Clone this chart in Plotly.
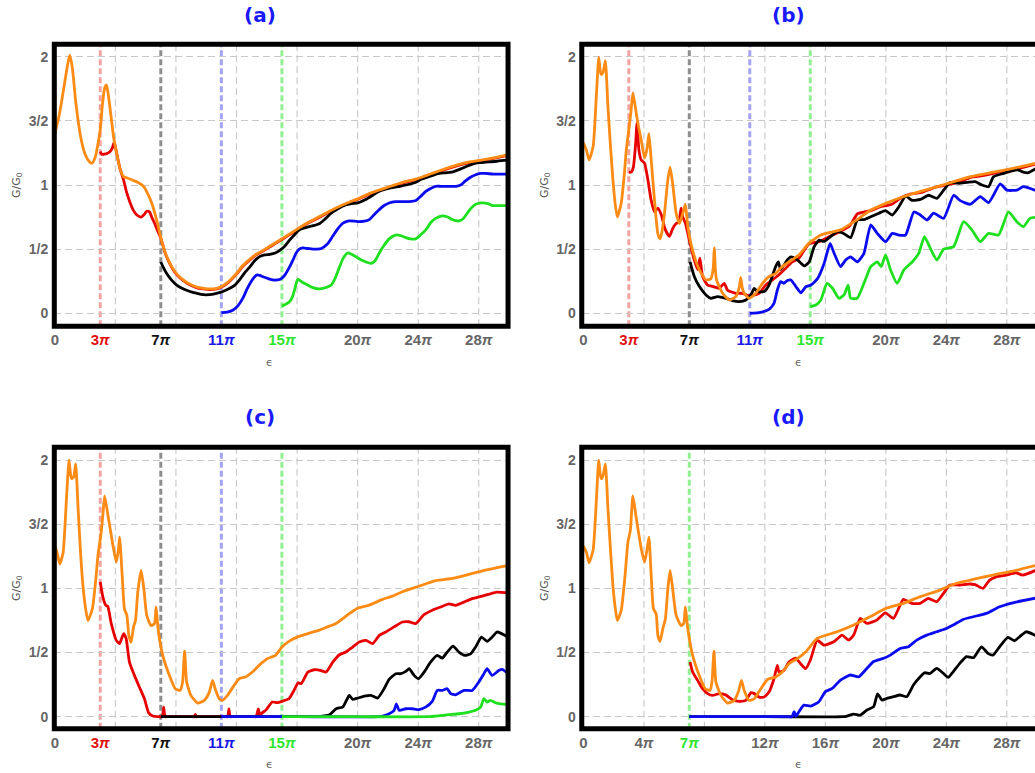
import plotly.graph_objects as go

# ---------------- data (x in units of pi, y = G/G0) ----------------
# Panel (a)
A_ORANGE_X = [0, 0.3, 0.6, 0.85, 0.99, 1.15, 1.4, 1.7, 2.0, 2.3, 2.46, 2.65, 2.85, 3.0, 3.15, 3.3, 3.4, 3.5, 3.7, 3.9, 4.1, 4.3, 4.54, 4.8, 5.2, 5.5, 5.86, 6.1, 6.4, 6.7, 7.0, 7.3, 7.6, 7.9, 8.27, 8.8, 9.36, 9.8, 10.24, 10.7, 11.1, 11.5, 12.0, 12.4, 12.87, 13.3, 13.75, 14.3, 14.85, 15.4, 15.94, 16.6, 17.26, 17.9, 18.57, 19.3, 19.96, 20.7, 21.4, 22.2, 22.96, 23.95, 25.15, 26.0, 26.7, 27.4, 27.96, 28.9, 29.95]
A_ORANGE_Y = [1.40, 1.55, 1.76, 1.94, 2.01, 1.92, 1.63, 1.38, 1.24, 1.18, 1.17, 1.21, 1.32, 1.43, 1.63, 1.76, 1.78, 1.73, 1.55, 1.36, 1.24, 1.13, 1.065, 1.055, 1.035, 1.02, 0.99, 0.94, 0.86, 0.74, 0.59, 0.47, 0.39, 0.33, 0.28, 0.235, 0.205, 0.195, 0.19, 0.195, 0.215, 0.25, 0.31, 0.37, 0.42, 0.46, 0.49, 0.53, 0.57, 0.61, 0.65, 0.70, 0.74, 0.78, 0.82, 0.86, 0.89, 0.93, 0.96, 0.99, 1.02, 1.05, 1.10, 1.135, 1.16, 1.18, 1.19, 1.21, 1.235]
A_RED_X = [3.0, 3.1, 3.25, 3.45, 3.65, 3.8, 3.92, 4.1, 4.3, 4.54, 4.75, 4.98, 5.2, 5.42, 5.7, 5.9, 6.07, 6.25, 6.4, 6.6, 6.8, 7.0, 7.3, 7.6, 7.9, 8.27, 8.8, 9.36, 9.8, 10.24, 10.7, 11.1, 11.5, 12.0, 12.4, 12.87, 13.3, 13.75, 14.3, 14.85, 15.4, 15.94, 16.6, 17.26, 17.9, 18.57, 19.3, 19.96, 20.7, 21.4, 22.2, 22.96, 23.95, 25.15, 26.0, 26.7, 27.4, 27.96, 28.9, 29.95]
A_RED_Y = [1.26, 1.24, 1.24, 1.245, 1.26, 1.29, 1.33, 1.24, 1.13, 1.04, 0.94, 0.86, 0.80, 0.766, 0.75, 0.77, 0.795, 0.79, 0.75, 0.70, 0.64, 0.585, 0.465, 0.385, 0.325, 0.275, 0.23, 0.2, 0.19, 0.185, 0.19, 0.21, 0.245, 0.305, 0.365, 0.415, 0.455, 0.485, 0.525, 0.565, 0.605, 0.645, 0.695, 0.735, 0.775, 0.815, 0.855, 0.885, 0.925, 0.955, 0.985, 1.015, 1.045, 1.095, 1.13, 1.155, 1.175, 1.185, 1.205, 1.23]
A_BLACK_X = [7.0, 7.2, 7.39, 7.7, 8.05, 8.5, 8.93, 9.4, 9.8, 10.2, 10.68, 11.1, 11.56, 11.9, 12.2, 12.5, 12.87, 13.2, 13.5, 13.85, 14.2, 14.55, 14.85, 15.2, 15.5, 15.85, 16.16, 16.5, 16.8, 17.15, 17.5, 17.9, 18.25, 18.7, 19.2, 19.6, 20.0, 20.5, 21.0, 21.4, 21.9, 22.3, 22.8, 23.2, 23.8, 24.2, 24.7, 25.4, 25.8, 26.2, 26.9, 27.4, 27.8, 28.2, 28.7, 29.2, 29.95]
A_BLACK_Y = [0.40, 0.35, 0.31, 0.26, 0.22, 0.19, 0.17, 0.155, 0.145, 0.145, 0.156, 0.17, 0.195, 0.22, 0.26, 0.31, 0.36, 0.41, 0.44, 0.455, 0.46, 0.47, 0.49, 0.525, 0.57, 0.615, 0.65, 0.665, 0.675, 0.685, 0.70, 0.74, 0.78, 0.815, 0.845, 0.855, 0.86, 0.885, 0.92, 0.95, 0.97, 0.98, 0.99, 1.0, 1.02, 1.045, 1.065, 1.09, 1.095, 1.10, 1.13, 1.155, 1.17, 1.175, 1.18, 1.185, 1.195]
A_BLUE_X = [11.0, 11.4, 11.78, 12.1, 12.43, 12.7, 12.98, 13.2, 13.36, 13.55, 13.75, 14.1, 14.4, 14.7, 14.96, 15.2, 15.5, 15.75, 15.94, 16.15, 16.38, 16.7, 17.04, 17.3, 17.6, 18.0, 18.35, 18.7, 19.0, 19.25, 19.45, 19.8, 20.1, 20.45, 20.77, 21.1, 21.4, 21.75, 22.08, 22.5, 22.85, 23.18, 23.55, 23.85, 24.2, 24.5, 24.85, 25.15, 25.5, 25.8, 26.15, 26.5, 26.8, 27.1, 27.45, 27.8, 28.1, 28.44, 29.0, 29.95]
A_BLUE_Y = [0.005, 0.01, 0.026, 0.06, 0.12, 0.19, 0.25, 0.285, 0.30, 0.295, 0.285, 0.27, 0.26, 0.26, 0.27, 0.30, 0.36, 0.42, 0.47, 0.50, 0.51, 0.505, 0.50, 0.50, 0.505, 0.54, 0.60, 0.66, 0.70, 0.715, 0.72, 0.718, 0.714, 0.718, 0.73, 0.77, 0.805, 0.84, 0.86, 0.87, 0.87, 0.87, 0.872, 0.88, 0.915, 0.95, 0.975, 0.99, 0.99, 0.99, 0.99, 0.99, 1.0, 1.03, 1.06, 1.08, 1.09, 1.09, 1.085, 1.085]
A_GREEN_X = [15.0, 15.25, 15.5, 15.7, 15.83, 15.95, 16.05, 16.2, 16.38, 16.7, 17.04, 17.4, 17.7, 18.0, 18.25, 18.5, 18.8, 19.05, 19.34, 19.6, 19.9, 20.25, 20.55, 20.9, 21.15, 21.43, 21.75, 22.08, 22.5, 22.85, 23.18, 23.5, 23.83, 24.15, 24.5, 24.85, 25.15, 25.6, 25.95, 26.25, 26.7, 26.95, 27.24, 27.5, 27.8, 28.22, 28.6, 28.9, 29.3, 29.95]
A_GREEN_Y = [0.057, 0.07, 0.09, 0.13, 0.18, 0.235, 0.265, 0.255, 0.24, 0.22, 0.20, 0.19, 0.195, 0.205, 0.22, 0.27, 0.36, 0.43, 0.47, 0.46, 0.44, 0.415, 0.40, 0.39, 0.41, 0.47, 0.53, 0.58, 0.61, 0.605, 0.59, 0.58, 0.58, 0.61, 0.65, 0.71, 0.74, 0.76, 0.75, 0.73, 0.72, 0.735, 0.78, 0.82, 0.85, 0.86, 0.855, 0.84, 0.84, 0.84]

# Panel (b)
B_ORANGE_X = [0.0, 0.2, 0.37, 0.64, 0.86, 1.01, 1.12, 1.19, 1.3, 1.45, 1.62, 1.8, 1.95, 2.1, 2.24, 2.5, 2.7, 2.83, 3.05, 3.15, 3.27, 3.49, 3.65, 3.82, 4.04, 4.2, 4.33, 4.48, 4.7, 4.92, 5.07, 5.2, 5.36, 5.58, 5.73, 5.9, 6.13, 6.35, 6.57, 6.74, 6.9, 7.22, 7.66, 8.1, 8.43, 8.58, 8.65, 8.72, 8.8, 9.2, 9.64, 10.08, 10.3, 10.4, 10.5, 10.63, 10.96, 11.4, 11.84, 12.27, 12.7, 13.15, 13.8, 14.25, 14.9, 15.3, 15.7, 16.3, 17.0, 17.9, 19.0, 20.0, 21.2, 22.3, 24.05, 25.6, 27.1, 28.4, 29.95]
B_ORANGE_Y = [1.33, 1.27, 1.195, 1.30, 1.71, 1.995, 1.88, 1.86, 1.88, 1.97, 1.61, 1.28, 1.04, 0.85, 0.75, 0.86, 1.08, 1.27, 1.48, 1.58, 1.72, 1.56, 1.45, 1.35, 1.21, 1.28, 1.40, 1.195, 0.88, 0.62, 0.58, 0.64, 0.78, 1.04, 1.14, 1.01, 0.78, 0.70, 0.78, 0.85, 0.675, 0.49, 0.34, 0.26, 0.27, 0.35, 0.51, 0.35, 0.26, 0.156, 0.104, 0.13, 0.2, 0.28, 0.2, 0.156, 0.117, 0.156, 0.234, 0.286, 0.31, 0.364, 0.416, 0.455, 0.545, 0.58, 0.61, 0.63, 0.65, 0.714, 0.805, 0.857, 0.91, 0.95, 1.01, 1.065, 1.10, 1.13, 1.17]
B_RED_X = [3.0, 3.15, 3.3, 3.45, 3.54, 3.67, 3.82, 4.04, 4.26, 4.48, 4.7, 4.92, 5.14, 5.42, 5.69, 5.9, 6.13, 6.3, 6.46, 6.57, 6.75, 7.0, 7.33, 7.55, 7.7, 7.88, 8.21, 8.54, 8.98, 9.31, 9.53, 10.08, 10.5, 10.85, 11.2, 11.62, 12.05, 12.5, 12.93, 13.37, 13.8, 14.25, 14.9, 15.59, 16.3, 17.0, 17.6, 18.11, 18.6, 19.0, 19.6, 20.4, 21.0, 21.6, 22.3, 23.2, 24.05, 25.0, 25.6, 26.5, 27.1, 28.0, 28.8, 29.95]
B_RED_Y = [1.10, 1.10, 1.14, 1.32, 1.48, 1.27, 1.195, 1.17, 1.04, 0.88, 0.79, 0.82, 0.77, 0.65, 0.60, 0.66, 0.70, 0.71, 0.82, 0.75, 0.70, 0.57, 0.415, 0.34, 0.43, 0.286, 0.22, 0.21, 0.195, 0.234, 0.18, 0.156, 0.156, 0.14, 0.14, 0.156, 0.22, 0.26, 0.30, 0.35, 0.40, 0.43, 0.54, 0.558, 0.60, 0.64, 0.68, 0.774, 0.79, 0.80, 0.83, 0.85, 0.90, 0.93, 0.94, 0.98, 1.0, 1.03, 1.06, 1.075, 1.09, 1.115, 1.13, 1.165]
B_BLACK_X = [7.05, 7.33, 7.66, 8.1, 8.43, 8.87, 9.42, 9.86, 10.3, 10.74, 11.07, 11.29, 11.5, 11.95, 12.27, 12.71, 12.89, 13.04, 13.48, 13.72, 14.16, 14.6, 14.93, 15.26, 15.59, 15.92, 16.36, 16.8, 17.23, 17.67, 18.11, 18.55, 19.0, 19.54, 19.98, 20.42, 20.86, 21.3, 21.74, 22.28, 22.83, 23.38, 23.82, 24.26, 24.81, 25.36, 25.91, 26.35, 26.79, 27.12, 27.78, 28.33, 28.76, 29.09, 29.42, 29.95]
B_BLACK_Y = [0.40, 0.286, 0.21, 0.143, 0.117, 0.13, 0.117, 0.099, 0.091, 0.104, 0.143, 0.195, 0.169, 0.169, 0.22, 0.364, 0.40, 0.34, 0.416, 0.44, 0.415, 0.37, 0.40, 0.52, 0.57, 0.56, 0.60, 0.636, 0.62, 0.59, 0.727, 0.73, 0.753, 0.78, 0.80, 0.766, 0.83, 0.914, 0.88, 0.888, 0.92, 0.896, 0.96, 1.02, 1.013, 1.02, 1.026, 1.0, 0.987, 1.065, 1.09, 1.11, 1.117, 1.10, 1.096, 1.13]
B_BLUE_X = [11.0, 11.6, 12.27, 12.6, 12.82, 13.04, 13.26, 13.48, 13.72, 14.05, 14.38, 14.71, 15.04, 15.48, 15.92, 16.31, 16.57, 17.0, 17.34, 17.67, 18.11, 18.55, 19.0, 19.43, 19.98, 20.42, 20.86, 21.3, 21.85, 22.28, 22.72, 23.16, 23.82, 24.48, 24.92, 25.58, 26.24, 26.79, 27.56, 28.0, 28.66, 29.09, 29.95]
B_BLUE_Y = [0.0, 0.005, 0.03, 0.078, 0.18, 0.247, 0.234, 0.255, 0.26, 0.208, 0.16, 0.208, 0.22, 0.27, 0.39, 0.545, 0.47, 0.364, 0.415, 0.44, 0.40, 0.467, 0.69, 0.623, 0.558, 0.623, 0.61, 0.61, 0.79, 0.766, 0.727, 0.78, 0.74, 0.92, 0.878, 0.85, 0.91, 0.862, 1.008, 0.96, 0.96, 0.987, 0.956]
B_GREEN_X = [15.0, 15.37, 15.7, 16.1, 16.47, 16.9, 17.23, 17.5, 17.67, 18.1, 18.55, 19.0, 19.43, 19.69, 19.98, 20.31, 20.75, 21.19, 21.74, 22.17, 22.55, 22.94, 23.38, 23.82, 24.48, 25.14, 25.69, 26.24, 26.79, 27.45, 28.11, 28.66, 29.09, 29.53, 29.95]
B_GREEN_Y = [0.052, 0.065, 0.104, 0.234, 0.195, 0.117, 0.143, 0.22, 0.117, 0.117, 0.234, 0.364, 0.40, 0.364, 0.455, 0.338, 0.234, 0.338, 0.40, 0.467, 0.597, 0.506, 0.415, 0.50, 0.52, 0.714, 0.65, 0.558, 0.623, 0.61, 0.79, 0.714, 0.675, 0.74, 0.748]

# Panel (c)
C_ORANGE_X = [0.0, 0.15, 0.33, 0.55, 0.77, 0.94, 1.05, 1.12, 1.25, 1.38, 1.54, 1.7, 1.86, 2.05, 2.19, 2.48, 2.7, 2.85, 3.07, 3.18, 3.29, 3.51, 3.84, 4.06, 4.2, 4.28, 4.45, 4.6, 4.76, 4.89, 5.04, 5.2, 5.33, 5.48, 5.7, 5.88, 6.07, 6.36, 6.58, 6.69, 6.82, 7.13, 7.57, 7.96, 8.27, 8.44, 8.57, 8.71, 8.99, 9.43, 9.87, 10.2, 10.42, 10.59, 10.86, 11.07, 11.4, 11.84, 12.17, 12.6, 13.05, 13.49, 14.03, 14.58, 15.0, 15.46, 16.0, 16.78, 17.48, 18.0, 18.57, 19.3, 19.96, 20.77, 21.64, 22.3, 22.96, 23.95, 25.15, 26.25, 27.35, 28.44, 29.95]
C_ORANGE_Y = [1.33, 1.28, 1.19, 1.28, 1.70, 2.0, 1.88, 1.855, 1.87, 1.97, 1.62, 1.28, 1.02, 0.83, 0.75, 0.84, 1.06, 1.257, 1.44, 1.58, 1.72, 1.57, 1.335, 1.205, 1.30, 1.40, 1.10, 0.84, 0.79, 0.634, 0.58, 0.70, 0.75, 0.97, 1.14, 1.0, 0.79, 0.71, 0.725, 0.855, 0.686, 0.478, 0.322, 0.218, 0.205, 0.27, 0.51, 0.27, 0.166, 0.106, 0.127, 0.19, 0.283, 0.218, 0.14, 0.127, 0.166, 0.244, 0.296, 0.31, 0.348, 0.40, 0.452, 0.478, 0.543, 0.587, 0.62, 0.65, 0.675, 0.70, 0.727, 0.79, 0.844, 0.87, 0.914, 0.94, 0.974, 1.013, 1.06, 1.078, 1.11, 1.143, 1.18]
C_RED_X = [3.0, 3.18, 3.36, 3.5, 3.73, 4.06, 4.28, 4.54, 4.71, 4.93, 5.26, 5.59, 5.92, 6.2, 6.47, 6.9, 7.1, 7.19, 7.28, 7.4, 9.1, 9.2, 9.28, 9.36, 9.45, 11.32, 11.42, 11.5, 11.58, 11.68, 13.2, 13.3, 13.44, 13.55, 13.7, 13.93, 14.36, 14.7, 15.0, 15.46, 15.8, 16.07, 16.27, 16.71, 17.15, 17.59, 17.92, 18.36, 18.8, 19.23, 19.67, 20.11, 20.55, 20.99, 21.43, 21.86, 22.41, 22.96, 23.4, 23.83, 24.38, 24.93, 25.48, 26.03, 26.47, 27.02, 27.57, 28.23, 28.77, 29.2, 29.95]
C_RED_Y = [1.05, 0.93, 0.87, 0.86, 0.725, 0.595, 0.57, 0.647, 0.61, 0.426, 0.322, 0.23, 0.14, 0.03, 0.005, 0.0, 0.0, 0.075, 0.0, 0.0, 0.0, 0.0, 0.018, 0.0, 0.0, 0.0, 0.0, 0.06, 0.0, 0.0, 0.0, 0.0, 0.06, 0.01, 0.03, 0.05, 0.114, 0.11, 0.12, 0.14, 0.205, 0.265, 0.257, 0.348, 0.366, 0.36, 0.348, 0.426, 0.483, 0.504, 0.543, 0.582, 0.595, 0.569, 0.634, 0.66, 0.70, 0.738, 0.74, 0.725, 0.795, 0.83, 0.855, 0.88, 0.868, 0.893, 0.92, 0.94, 0.958, 0.971, 0.966]
C_BLACK_X = [7.0, 12.0, 17.3, 17.5, 17.7, 18.14, 18.58, 19.01, 19.23, 19.45, 19.67, 20.0, 20.44, 20.88, 21.32, 21.75, 22.08, 22.52, 22.85, 23.18, 23.4, 23.73, 24.01, 24.39, 24.82, 25.26, 25.59, 25.92, 26.3, 26.69, 27.08, 27.46, 27.79, 28.18, 28.55, 28.88, 29.2, 29.95]
C_BLACK_Y = [0.0, 0.0, 0.0, 0.0, 0.005, 0.016, 0.062, 0.075, 0.12, 0.166, 0.135, 0.145, 0.16, 0.166, 0.145, 0.218, 0.29, 0.335, 0.335, 0.353, 0.374, 0.322, 0.296, 0.348, 0.426, 0.478, 0.457, 0.504, 0.55, 0.504, 0.478, 0.49, 0.543, 0.62, 0.587, 0.62, 0.66, 0.62]
C_BLUE_X = [11.0, 16.0, 21.4, 21.65, 22.08, 22.41, 22.56, 22.74, 23.18, 23.6, 24.05, 24.49, 24.93, 25.26, 25.59, 25.92, 26.14, 26.47, 27.02, 27.57, 28.0, 28.34, 28.55, 28.88, 29.32, 29.54, 29.95]
C_BLUE_Y = [0.0, 0.0, 0.0, 0.005, 0.023, 0.05, 0.1, 0.05, 0.062, 0.062, 0.055, 0.075, 0.12, 0.205, 0.205, 0.218, 0.18, 0.171, 0.205, 0.205, 0.27, 0.335, 0.374, 0.322, 0.36, 0.369, 0.335]
C_GREEN_X = [15.0, 20.0, 24.8, 25.15, 26.03, 26.69, 27.35, 27.79, 28.12, 28.34, 28.55, 28.77, 29.1, 29.43, 29.95]
C_GREEN_Y = [0.0, 0.0, 0.0, 0.005, 0.016, 0.023, 0.036, 0.05, 0.075, 0.14, 0.114, 0.127, 0.109, 0.1, 0.094]

# Panel (d)
D_ORANGE_X = [0.0, 0.2, 0.37, 0.64, 0.86, 1.01, 1.12, 1.19, 1.3, 1.45, 1.62, 1.8, 1.95, 2.1, 2.24, 2.5, 2.75, 2.94, 3.1, 3.27, 3.49, 3.82, 4.04, 4.2, 4.33, 4.48, 4.63, 4.81, 4.92, 5.07, 5.25, 5.42, 5.58, 5.73, 5.9, 6.13, 6.46, 6.63, 6.74, 6.9, 7.22, 7.66, 8.06, 8.37, 8.5, 8.63, 8.76, 9.09, 9.53, 9.97, 10.25, 10.45, 10.63, 10.96, 11.29, 11.73, 12.17, 12.71, 13.15, 13.59, 14.14, 14.69, 15.46, 16.78, 17.87, 18.97, 20.0, 21.16, 22.26, 23.57, 24.67, 25.77, 27.08, 28.4, 29.95]
D_ORANGE_Y = [1.33, 1.28, 1.2, 1.30, 1.70, 2.0, 1.88, 1.855, 1.88, 1.97, 1.62, 1.28, 1.02, 0.85, 0.75, 0.83, 1.10, 1.36, 1.45, 1.72, 1.55, 1.31, 1.205, 1.30, 1.40, 1.10, 0.84, 0.80, 0.634, 0.587, 0.686, 0.764, 0.997, 1.14, 0.997, 0.79, 0.71, 0.725, 0.855, 0.686, 0.478, 0.322, 0.218, 0.205, 0.27, 0.51, 0.27, 0.166, 0.106, 0.127, 0.197, 0.283, 0.205, 0.127, 0.14, 0.218, 0.29, 0.31, 0.348, 0.413, 0.452, 0.504, 0.61, 0.662, 0.714, 0.78, 0.844, 0.883, 0.935, 0.987, 1.04, 1.07, 1.104, 1.135, 1.18]
D_RED_X = [7.05, 7.22, 7.55, 7.88, 8.21, 8.54, 8.98, 9.4, 9.86, 10.3, 10.74, 11.07, 11.3, 11.62, 11.95, 12.27, 12.6, 12.82, 12.93, 13.26, 13.59, 14.03, 14.36, 14.69, 15.0, 15.46, 15.9, 16.56, 17.1, 17.54, 17.87, 18.31, 18.75, 19.4, 19.96, 20.5, 21.16, 21.71, 22.26, 22.8, 23.36, 23.8, 24.23, 24.89, 25.44, 25.9, 26.42, 26.86, 27.3, 27.96, 28.6, 29.05, 29.95]
D_RED_Y = [0.426, 0.348, 0.283, 0.218, 0.18, 0.166, 0.18, 0.17, 0.132, 0.12, 0.127, 0.187, 0.18, 0.153, 0.153, 0.192, 0.296, 0.40, 0.348, 0.361, 0.426, 0.457, 0.413, 0.374, 0.44, 0.597, 0.558, 0.584, 0.636, 0.597, 0.636, 0.766, 0.727, 0.753, 0.81, 0.766, 0.914, 0.883, 0.883, 0.922, 0.896, 0.96, 1.026, 1.026, 1.034, 1.03, 1.0, 1.065, 1.09, 1.104, 1.122, 1.104, 1.143]
D_BLACK_X = [7.0, 12.0, 17.2, 17.43, 17.87, 18.3, 18.75, 19.19, 19.45, 19.74, 20.07, 20.5, 20.94, 21.38, 21.82, 22.26, 22.59, 22.9, 23.36, 23.8, 24.12, 24.45, 24.89, 25.33, 25.8, 26.32, 26.75, 27.08, 27.52, 28.07, 28.5, 28.84, 29.27, 29.95]
D_BLACK_Y = [0.0, 0.0, 0.0, 0.005, 0.02, 0.012, 0.052, 0.078, 0.177, 0.13, 0.143, 0.156, 0.169, 0.156, 0.247, 0.31, 0.343, 0.335, 0.377, 0.338, 0.306, 0.35, 0.416, 0.468, 0.46, 0.545, 0.494, 0.48, 0.545, 0.618, 0.592, 0.623, 0.662, 0.63]
D_BLUE_X = [7.0, 10.0, 13.6, 13.8, 13.93, 14.05, 14.2, 14.58, 15.02, 15.57, 16.0, 16.45, 17.0, 17.65, 18.2, 18.75, 19.19, 19.85, 20.29, 20.94, 21.49, 22.04, 22.7, 23.36, 24.0, 24.45, 25.1, 25.77, 26.64, 27.52, 28.4, 29.95]
D_BLUE_Y = [0.0, 0.0, 0.0, 0.0, 0.04, 0.0, 0.03, 0.09, 0.083, 0.117, 0.195, 0.22, 0.286, 0.325, 0.31, 0.377, 0.43, 0.455, 0.48, 0.532, 0.545, 0.597, 0.636, 0.662, 0.688, 0.714, 0.758, 0.779, 0.805, 0.857, 0.888, 0.925]

# tick labels
ABC_TICKVALS = [0, 3, 7, 11, 15, 20, 24, 28]
ABC_TICKTEXT = ["0", "3π", "7π", "11π", "15π", "20π", "24π", "28π"]
ABC_TICKCOLORS = ["#666666", "#e01010", "#111111", "#1a1ae6", "#2ee62e", "#666666", "#666666", "#666666"]
D_TICKVALS = [0, 4, 7, 12, 16, 20, 24, 28]
D_TICKTEXT = ["0", "4π", "7π", "12π", "16π", "20π", "24π", "28π"]
D_TICKCOLORS = ["#666666", "#666666", "#2ee62e", "#666666", "#666666", "#666666", "#666666", "#666666"]
GRID_X = [4, 8, 12, 16, 20, 24, 28]
Y_TICKVALS = [0, 0.5, 1, 1.5, 2]
Y_TICKTEXT = ["0", "1/2", "1", "3/2", "2"]
ABC_MARKS = [3, 7, 11, 15]
ABC_MARK_COLORS = ["#f4a3a3", "#8e8e8e", "#a3a3f2", "#92f092"]
D_MARKS = [7]
D_MARK_COLORS = ["#92f092"]

# ---------------- layout helpers ----------------
W, H = 1035, 773
def PX(x):
    return x / W
def PY(y):
    return 1 - y / H

ORANGE, RED, BLACK, BLUE, GREEN = "#fb8b14", "#e60000", "#000000", "#0b0bf0", "#1fe01f"

panels = [
    dict(name="(a)", ax="", xd=(50.5, 506), yd=(44.2, 326.3), x0=51, sx=15.2, y0=313.3,
         series=[(A_RED_X, A_RED_Y, RED), (A_BLACK_X, A_BLACK_Y, BLACK), (A_BLUE_X, A_BLUE_Y, BLUE),
                 (A_GREEN_X, A_GREEN_Y, GREEN), (A_ORANGE_X, A_ORANGE_Y, ORANGE)],
         tv=ABC_TICKVALS, tt=ABC_TICKTEXT, tc=ABC_TICKCOLORS, mk=ABC_MARKS, mc=ABC_MARK_COLORS,
         title_xy=(257, 15), eps_xy=(267, 362), g_xy=(13, 185), smooth=0.8),
    dict(name="(b)", ax="2", xd=(580, 1035), yd=(44.2, 326.3), x0=581.7, sx=15.18, y0=313.3,
         series=[(B_RED_X, B_RED_Y, RED), (B_BLACK_X, B_BLACK_Y, BLACK), (B_BLUE_X, B_BLUE_Y, BLUE),
                 (B_GREEN_X, B_GREEN_Y, GREEN), (B_ORANGE_X, B_ORANGE_Y, ORANGE)],
         tv=ABC_TICKVALS, tt=ABC_TICKTEXT, tc=ABC_TICKCOLORS, mk=ABC_MARKS, mc=ABC_MARK_COLORS,
         title_xy=(788, 15), eps_xy=(798, 362), g_xy=(543, 185), smooth=0.5),
    dict(name="(c)", ax="3", xd=(50.5, 506), yd=(447.2, 728.8), x0=51, sx=15.2, y0=716.7,
         series=[(C_RED_X, C_RED_Y, RED), (C_BLACK_X, C_BLACK_Y, BLACK), (C_BLUE_X, C_BLUE_Y, BLUE),
                 (C_GREEN_X, C_GREEN_Y, GREEN), (C_ORANGE_X, C_ORANGE_Y, ORANGE)],
         tv=ABC_TICKVALS, tt=ABC_TICKTEXT, tc=ABC_TICKCOLORS, mk=ABC_MARKS, mc=ABC_MARK_COLORS,
         title_xy=(257, 417), eps_xy=(267, 764), g_xy=(13, 588), smooth=0.5),
    dict(name="(d)", ax="4", xd=(580, 1035), yd=(447.2, 728.8), x0=581.7, sx=15.18, y0=716.7,
         series=[(D_RED_X, D_RED_Y, RED), (D_BLACK_X, D_BLACK_Y, BLACK), (D_BLUE_X, D_BLUE_Y, BLUE),
                 (D_ORANGE_X, D_ORANGE_Y, ORANGE)],
         tv=D_TICKVALS, tt=D_TICKTEXT, tc=D_TICKCOLORS, mk=D_MARKS, mc=D_MARK_COLORS,
         title_xy=(788, 417), eps_xy=(798, 764), g_xy=(543, 588), smooth=0.5),
]

SY = 128.3
fig = go.Figure()
shapes = []
annotations = []
layout = {}

for p in panels:
    xa = "x" + p["ax"]
    ya = "y" + p["ax"]
    xr = [(p["xd"][0] - p["x0"]) / p["sx"], (p["xd"][1] - p["x0"]) / p["sx"]]
    yr = [(p["y0"] - p["yd"][1]) / SY, (p["y0"] - p["yd"][0]) / SY]
    ticktext = ["<b>%s</b>" % t.replace("π", "<i>π</i>") for t in p["tt"]]
    ticktext = ['<span style="color:%s">%s</span>' % (c, t) for c, t in zip(p["tc"], ticktext)]
    layout["xaxis" + p["ax"]] = dict(
        domain=[PX(p["xd"][0]), min(1.0, PX(p["xd"][1]))], range=xr, anchor=ya,
        tickmode="array", tickvals=p["tv"], ticktext=ticktext, showgrid=False, zeroline=False,
        showline=False, ticks="", ticklabelstandoff=3,
        tickfont=dict(family="Liberation Sans", size=15, color="#666666"), fixedrange=True)
    layout["yaxis" + p["ax"]] = dict(
        domain=[PY(p["yd"][1]), PY(p["yd"][0])], range=yr, anchor=xa,
        tickmode="array", tickvals=Y_TICKVALS, ticktext=["<b>%s</b>" % t for t in Y_TICKTEXT],
        showgrid=True, gridcolor="#c8c8c8", gridwidth=1.1, griddash="7px,4px",
        zeroline=False, showline=False, ticks="", ticklabelstandoff=5,
        tickfont=dict(family="Liberation Sans", size=14, color="#666666"), fixedrange=True)
    # vertical dashed gridlines
    for gx in GRID_X:
        shapes.append(dict(type="line", xref=xa, yref=ya + " domain", x0=gx, x1=gx, y0=0, y1=1,
                           line=dict(color="#c8c8c8", width=1.1, dash="7px,4px"), layer="below"))
    # coloured threshold markers
    for mx, mcol in zip(p["mk"], p["mc"]):
        shapes.append(dict(type="line", xref=xa, yref=ya + " domain", x0=mx, x1=mx, y0=0, y1=1,
                           line=dict(color=mcol, width=3, dash="6px,3px"), layer="below"))
    # curves
    for xs, ys, col in p["series"]:
        line = dict(color=col, width=2.8, shape="spline", smoothing=p["smooth"])
        fig.add_trace(go.Scatter(x=xs, y=ys, mode="lines", line=line, xaxis=xa, yaxis=ya,
                                 showlegend=False, hoverinfo="skip"))
    # thick frame
    x1 = p["xd"][1] if p["xd"][1] < W else W + 8
    shapes.append(dict(type="rect", xref="paper", yref="paper",
                       x0=PX(p["xd"][0]), x1=PX(x1), y0=PY(p["yd"][1]), y1=PY(p["yd"][0]),
                       line=dict(color="black", width=5), fillcolor="rgba(0,0,0,0)", layer="above"))
    # annotations
    annotations.append(dict(text="<b>%s</b>" % p["name"], xref="paper", yref="paper",
                            x=PX(p["title_xy"][0]), y=PY(p["title_xy"][1]), showarrow=False,
                            xanchor="center", yanchor="middle",
                            font=dict(family="DejaVu Sans", size=20, color="#1a1aff")))
    annotations.append(dict(text="ϵ", xref="paper", yref="paper",
                            x=PX(p["eps_xy"][0]), y=PY(p["eps_xy"][1]), showarrow=False,
                            xanchor="center", yanchor="middle",
                            font=dict(family="DejaVu Sans", size=11, color="#666666")))
    annotations.append(dict(text="G/G<sub>0</sub>", xref="paper", yref="paper",
                            x=PX(p["g_xy"][0]), y=PY(p["g_xy"][1]), showarrow=False, textangle=-90,
                            xanchor="center", yanchor="middle",
                            font=dict(family="DejaVu Sans", size=11, color="#555555")))

fig.update_layout(
    width=W, height=H, margin=dict(l=0, r=0, t=0, b=0),
    paper_bgcolor="white", plot_bgcolor="white",
    shapes=shapes, annotations=annotations, showlegend=False, **layout)

fig.write_html("out.html", config={"displayModeBar": False},
               post_script="document.body.style.margin='0';document.body.style.overflow='hidden';")
